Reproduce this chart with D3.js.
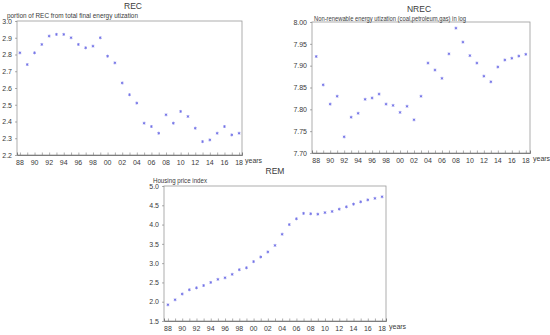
<!DOCTYPE html>
<html>
<head>
<meta charset="utf-8">
<script src="https://cdn.jsdelivr.net/npm/d3@7"></script>
<style>
  body { margin: 0; background: #fff; }
  svg text { font-family: "Liberation Sans", Arial, sans-serif; fill: #3a3a3a; }
</style>
</head>
<body>
<svg id="chart" width="550" height="335"></svg>
<script>
// years on the x axis (1988 - 2018)
const years = d3.range(1988, 2019);
const yearTicks = d3.range(1988, 2019, 2);

// REC: portion of renewable energy in total final energy utilization
const recValues = [2.81, 2.74, 2.81, 2.86, 2.91, 2.92, 2.92, 2.90, 2.86, 2.84, 2.85, 2.90,
  2.79, 2.75, 2.63, 2.56, 2.51, 2.39, 2.37, 2.33, 2.44, 2.39, 2.46, 2.43, 2.36, 2.28, 2.29,
  2.33, 2.37, 2.32, 2.33];
const recTicks = [2.2, 2.3, 2.4, 2.5, 2.6, 2.7, 2.8, 2.9, 3.0];

// NREC: non-renewable energy utilization in log
const nrecValues = [7.921, 7.856, 7.812, 7.830, 7.737, 7.782, 7.791, 7.823, 7.826, 7.835,
  7.812, 7.809, 7.793, 7.807, 7.776, 7.830, 7.906, 7.890, 7.871, 7.927, 7.986, 7.954, 7.923,
  7.906, 7.876, 7.863, 7.897, 7.913, 7.917, 7.922, 7.926];
const nrecTicks = [7.70, 7.75, 7.80, 7.85, 7.90, 7.95, 8.00];

// REM: housing price index
const remValues = [1.92, 2.05, 2.20, 2.31, 2.36, 2.42, 2.50, 2.58, 2.62, 2.71, 2.83, 2.88,
  3.04, 3.16, 3.29, 3.46, 3.75, 4.00, 4.15, 4.29, 4.28, 4.27, 4.31, 4.34, 4.40, 4.46, 4.53,
  4.59, 4.64, 4.68, 4.72];
const remTicks = [1.5, 2.0, 2.5, 3.0, 3.5, 4.0, 4.5, 5.0];

const svg = d3.select("#chart");

function drawPanel(p) {
  let x = d3.scaleLinear().domain(p.xDomain).range([p.left, p.right]);
  let y = d3.scaleLinear().domain(p.yDomain).range([p.bottom, p.top]);
  let g = svg.append("g");

  // frame
  g.append("rect")
    .attr("x", p.left).attr("y", p.top)
    .attr("width", p.right - p.left).attr("height", p.bottom - p.top)
    .attr("fill", "none").attr("stroke", "#999").attr("stroke-width", 0.8);

  // x axis: a tick each year, a label every two years
  let xAxis = d3.axisBottom(x).tickValues(years).tickSize(-2.5).tickFormat("");
  g.append("g").attr("transform", `translate(0,${p.bottom})`).call(xAxis)
    .call(a => a.select(".domain").attr("stroke", "#666").attr("stroke-width", 0.8))
    .call(a => a.selectAll(".tick line").attr("stroke", "#777").attr("stroke-width", 0.6));
  g.selectAll(".xlab").data(yearTicks).enter().append("text")
    .attr("x", d => x(d)).attr("y", p.bottom + 10)
    .attr("text-anchor", "middle").attr("font-size", 7)
    .text(d => String(d % 100).padStart(2, "0"));

  // y axis
  let yAxis = d3.axisLeft(y).tickValues(p.yTicks).tickSize(2).tickPadding(3)
    .tickFormat(d3.format(p.fmt));
  g.append("g").attr("transform", `translate(${p.left},0)`).call(yAxis)
    .call(a => a.select(".domain").remove())
    .call(a => a.selectAll(".tick line").attr("stroke", "#777").attr("stroke-width", 0.6))
    .call(a => a.selectAll(".tick text").attr("font-size", 7).attr("fill", "#444")
      .attr("font-family", "Liberation Sans, Arial, sans-serif"));

  // points
  let star = d3.symbol().type(d3.symbolAsterisk).size(6);
  g.selectAll(".pt").data(p.values).enter().append("path")
    .attr("d", star)
    .attr("transform", (d, i) => `translate(${x(years[i])},${y(d)})`)
    .attr("fill", "none").attr("stroke", "#6e6ee6").attr("stroke-width", 0.8);

  // texts
  g.append("text").attr("x", p.titleX).attr("y", p.titleY)
    .attr("text-anchor", "middle").attr("font-size", 8.5).text(p.title);
  g.append("text").attr("x", p.labelX).attr("y", p.labelY)
    .attr("font-size", 6.5).attr("textLength", p.labelW).attr("lengthAdjust", "spacingAndGlyphs")
    .text(p.label);
  g.append("text").attr("x", p.right + 3).attr("y", p.bottom + 8)
    .attr("font-size", 7).text("years");
}

drawPanel({
  left: 17, right: 242, top: 21, bottom: 155,
  xDomain: [1987.6, 2018.4], yDomain: [2.2, 3.0], yTicks: recTicks, fmt: ".1f",
  values: recValues, title: "REC", titleX: 133, titleY: 9,
  label: "portion of REC from  total final energy utization", labelX: 7, labelY: 18, labelW: 131
});

drawPanel({
  left: 312, right: 530, top: 22, bottom: 153,
  xDomain: [1987.4, 2018.6], yDomain: [7.70, 8.00], yTicks: nrecTicks, fmt: ".2f",
  values: nrecValues, title: "NREC", titleX: 419, titleY: 12,
  label: "Non-renewable energy utization (coal,petroleum,gas) in log", labelX: 314, labelY: 21, labelW: 152
});

drawPanel({
  left: 164, right: 386, top: 186, bottom: 321,
  xDomain: [1987.45, 2018.55], yDomain: [1.5, 5.0], yTicks: remTicks, fmt: ".1f",
  values: remValues, title: "REM", titleX: 275, titleY: 174,
  label: "Housing price index", labelX: 153, labelY: 183, labelW: 54
});
</script>
</body>
</html>
